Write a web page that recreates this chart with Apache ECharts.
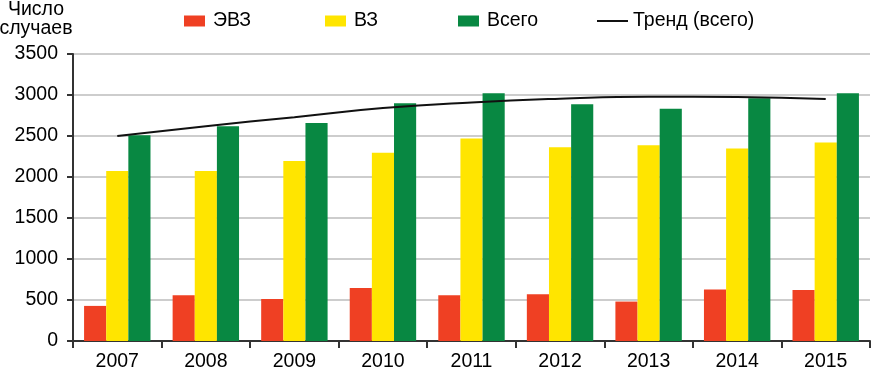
<!DOCTYPE html>
<html><head><meta charset="utf-8">
<script src="https://cdn.jsdelivr.net/npm/echarts@6/dist/echarts.min.js"></script>
<style>html,body{margin:0;padding:0;background:#fff}#c{width:872px;height:369px}</style>
</head><body><div id="c"></div>
<script>
const years = ['2007','2008','2009','2010','2011','2012','2013','2014','2015'];
const evz = [428, 558, 513, 646, 558, 570, 481, 627, 622];
const vz = [2073, 2073, 2194, 2295, 2469, 2364, 2388, 2348, 2420];
const total = [2509, 2618, 2658, 2900, 3022, 2888, 2832, 2961, 3022];
const trend = [2500, 2620, 2730, 2840, 2910, 2955, 2980, 2975, 2950];
const yTicks = {min: 0, max: 3500, interval: 500};
const names = ['ЭВЗ', 'ВЗ', 'Всего', 'Тренд (всего)'];
const colors = ['#EF4023', '#FFE500', '#088842', '#111111'];
const FONT = 'Liberation Sans';
const FS = 19.5;

const chart = echarts.init(document.getElementById('c'), null, {renderer: 'canvas'});
function lg(i, left, icon, w, h, gap) {
  return {
    data: [{name: names[i], icon: icon}],
    left: left, top: 11, itemWidth: w, itemHeight: h, itemGap: 0, padding: 0,
    textStyle: {fontFamily: FONT, fontSize: FS, color: '#000', padding: [0,0,0,gap - 5]},
    selectedMode: false
  };
}
chart.setOption({
  animation: false,
  textStyle: {fontFamily: FONT},
  graphic: [{
    type: 'text', x: 36, y: 0,
    style: {text: 'Число\nслучаев', textAlign: 'center', fill: '#000',
      fontFamily: FONT, fontSize: FS, lineHeight: 19}
  }],
  legend: [
    lg(0, 184, 'rect', 21, 11, 8),
    lg(1, 325, 'rect', 21, 11, 8),
    lg(2, 458, 'rect', 21, 11, 8),
    lg(3, 597, 'rect', 31, 2, 5)
  ],
  grid: {left: 73, right: 2, top: 54, bottom: 28, containLabel: false, outerBoundsMode: 'none'},
  xAxis: {
    type: 'category', data: years,
    axisLine: {lineStyle: {color: '#333', width: 2}},
    axisTick: {show: true, length: 7, alignWithLabel: false, lineStyle: {color: '#333', width: 2}},
    axisLabel: {fontFamily: FONT, fontSize: FS, color: '#000', margin: 11}
  },
  yAxis: {
    type: 'value', min: yTicks.min, max: yTicks.max, interval: yTicks.interval,
    axisLine: {show: true, lineStyle: {color: '#333', width: 2}},
    axisTick: {show: true, length: 6, lineStyle: {color: '#333', width: 2}},
    axisLabel: {fontFamily: FONT, fontSize: FS, color: '#000', margin: 15, formatter: v => String(v)},
    splitLine: {lineStyle: {color: '#BDBDBD', width: 1.5}}
  },
  series: [
    {name: names[0], type: 'bar', data: evz, barGap: '0%', barCategoryGap: '25%', itemStyle: {color: colors[0]}},
    {name: names[1], type: 'bar', data: vz, itemStyle: {color: colors[1]}},
    {name: names[2], type: 'bar', data: total, itemStyle: {color: colors[2]}},
    {name: names[3], type: 'line', data: trend, smooth: true, symbol: 'none', z: 5,
      lineStyle: {color: colors[3], width: 2}, itemStyle: {color: colors[3]}}
  ]
});
</script></body></html>
